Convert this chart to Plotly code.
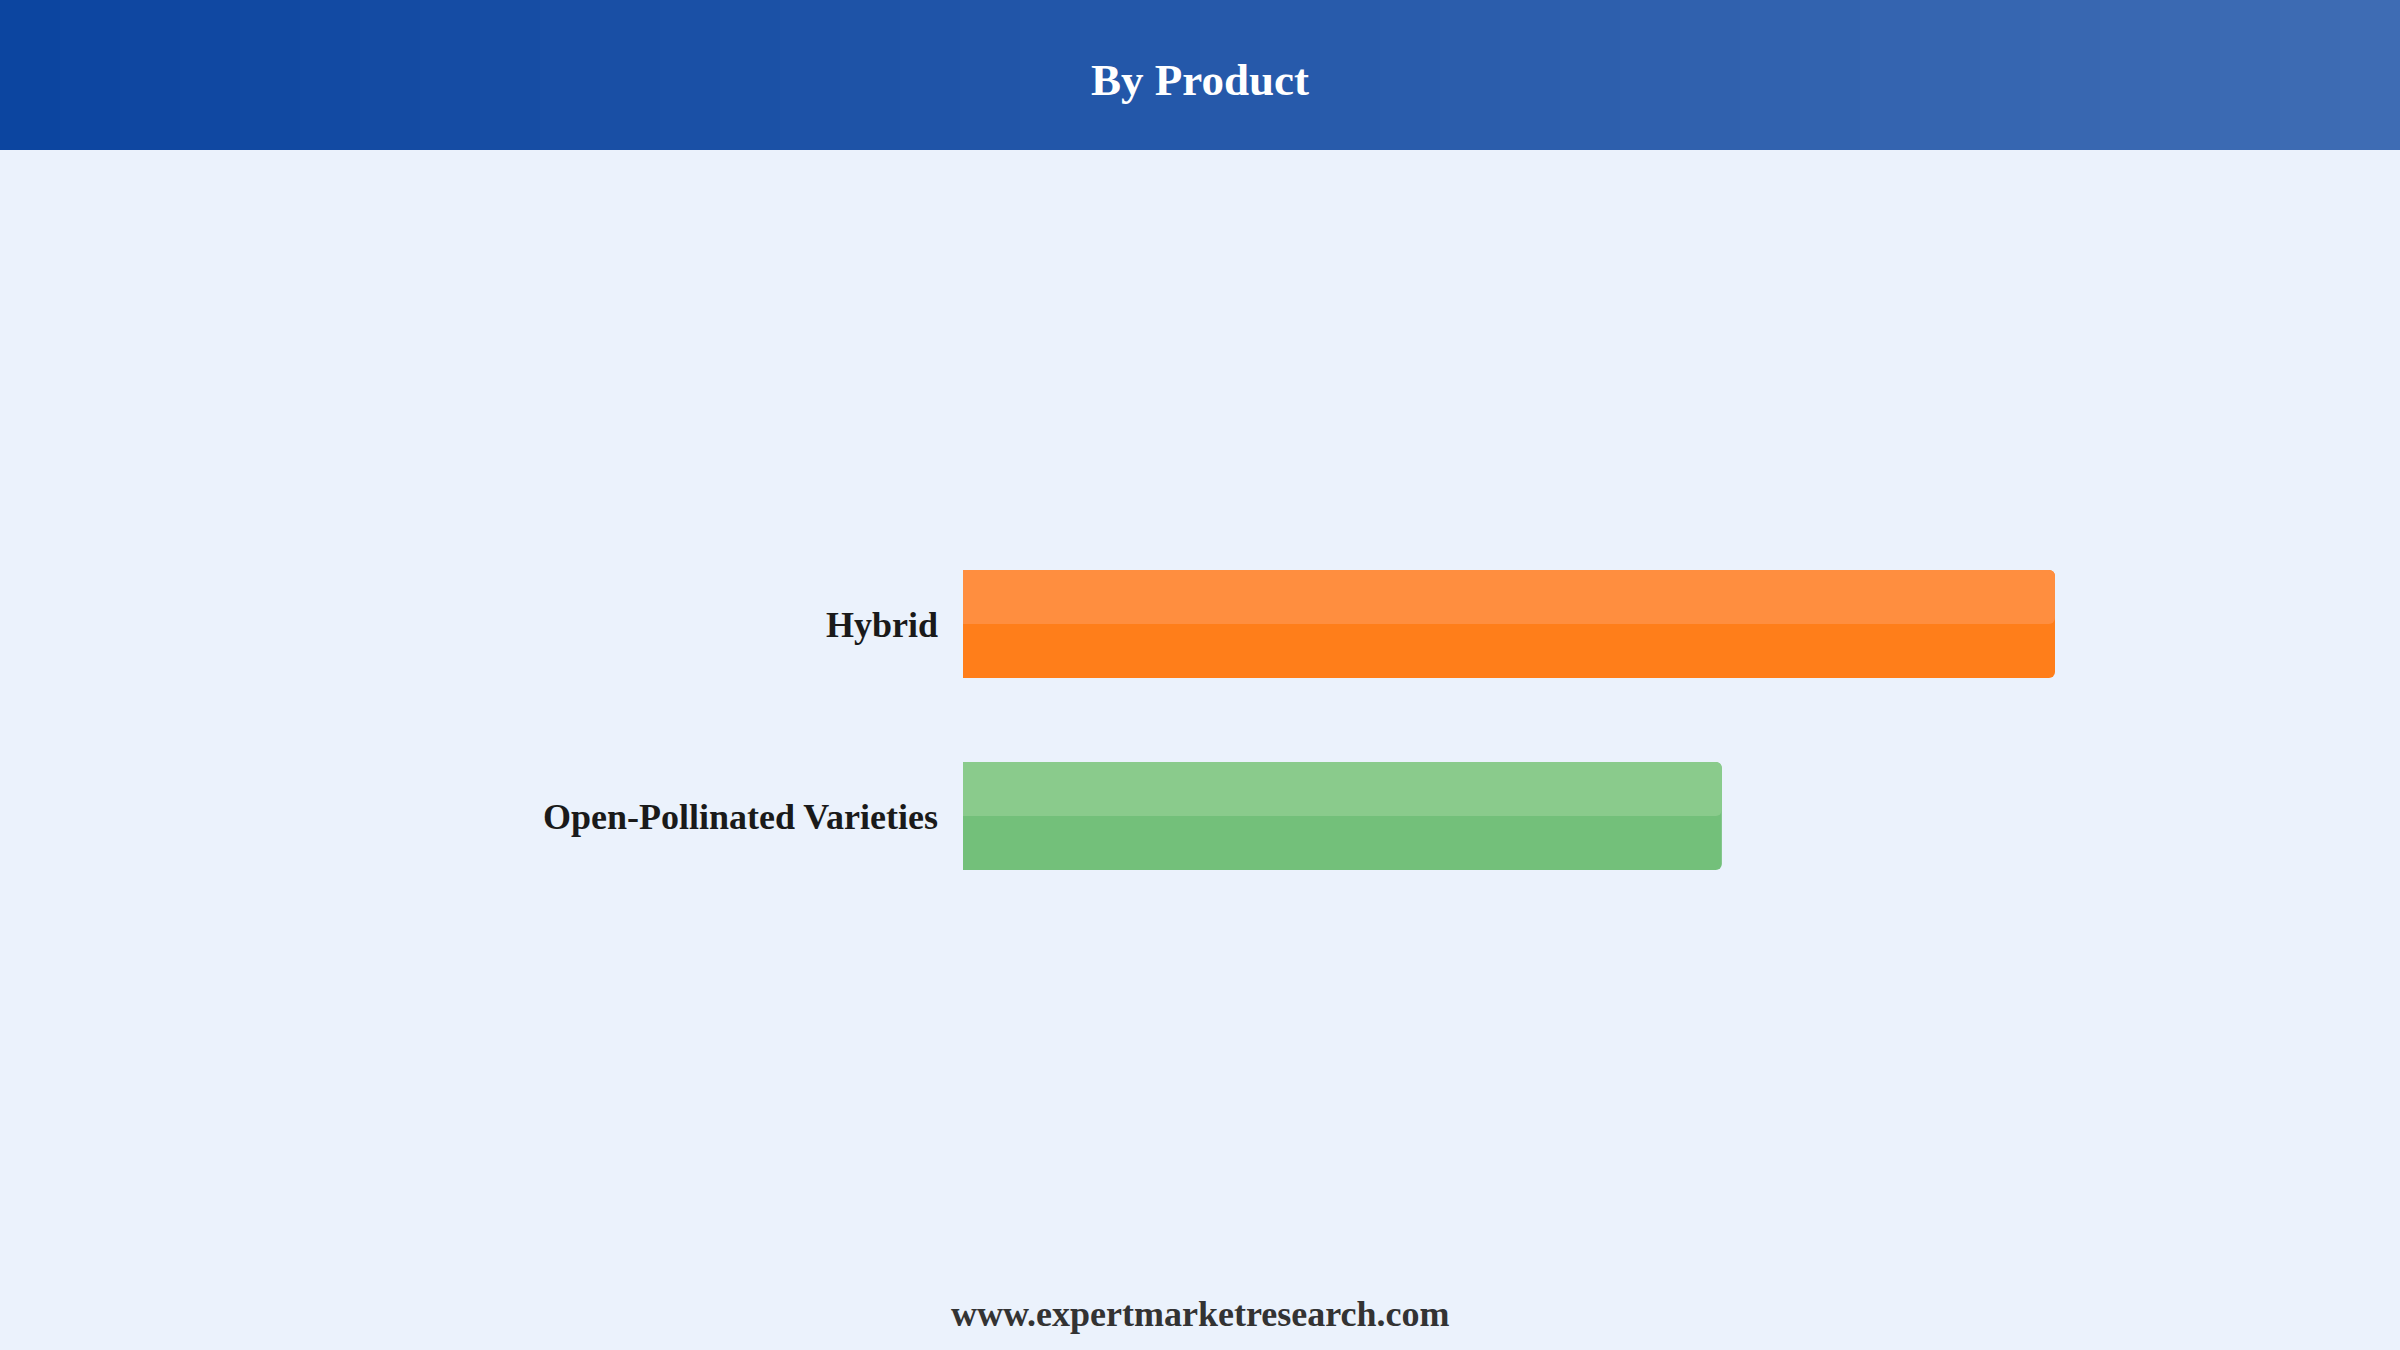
import plotly.graph_objects as go

categories = ["Hybrid", "Open-Pollinated Varieties"]
values = [59, 41]
base_colors = ["#FF7E1A", "#73C07A"]
top_colors = ["#FF8E3F", "#8ACB8C"]

title_text = "By Product"
footer_text = "www.expertmarketresearch.com"

W, H = 2400, 1350
FONT = "Liberation Serif, Times New Roman, serif"
BG = "#EBF2FC"

fig = go.Figure()

bar_w = 0.5625
fig.add_trace(go.Bar(
    y=categories, x=values, orientation="h",
    marker=dict(color=base_colors, cornerradius=6, line=dict(width=0)),
    width=bar_w, hoverinfo="x+y", showlegend=False,
))
fig.add_trace(go.Bar(
    y=categories, x=values, orientation="h",
    marker=dict(color=top_colors, cornerradius=6, line=dict(width=0)),
    width=bar_w / 2, offset=-bar_w / 2, hoverinfo="skip", showlegend=False,
))

# header gradient stripes
c0 = (12, 69, 160)
c1 = (62, 108, 180)
n = 40
shapes = []
for i in range(n):
    t = i / (n - 1)
    col = tuple(round(c0[k] + (c1[k] - c0[k]) * t) for k in range(3))
    shapes.append(dict(
        type="rect", xref="paper", yref="paper",
        x0=i / n, x1=(i + 1) / n + 0.001,
        y0=1 - 150 / H, y1=1,
        fillcolor="rgb(%d,%d,%d)" % col, line=dict(width=0), layer="below",
    ))

fig.update_layout(
    width=W, height=H,
    margin=dict(l=0, r=0, t=0, b=0),
    paper_bgcolor=BG,
    plot_bgcolor="rgba(0,0,0,0)",
    barmode="overlay",
    shapes=shapes,
    xaxis=dict(
        domain=[963 / W, 2055 / W], range=[0, 59],
        showgrid=False, zeroline=False, showticklabels=False, showline=False,
    ),
    yaxis=dict(
        domain=[1 - 912 / H, 1 - 528 / H],
        autorange="reversed",
        showgrid=False, zeroline=False, showline=False,
        ticks="", ticklabelstandoff=24,
        tickfont=dict(family=FONT, size=36, color="#1A1A1A", weight="bold"),
    ),
    annotations=[
        dict(text="<b>%s</b>" % title_text, xref="paper", yref="paper",
             x=0.5, y=1 - 80 / H, xanchor="center", yanchor="middle",
             showarrow=False, font=dict(family=FONT, size=45, color="white")),
        dict(text="<b>%s</b>" % footer_text, xref="paper", yref="paper",
             x=0.5, y=1 - 1314 / H, xanchor="center", yanchor="middle",
             showarrow=False, font=dict(family=FONT, size=36, color="#333333")),
    ],
)

fig.write_html(
    "out.html",
    config={"displayModeBar": False},
    post_script="document.body.style.margin='0';document.body.style.background='%s';" % BG,
)
